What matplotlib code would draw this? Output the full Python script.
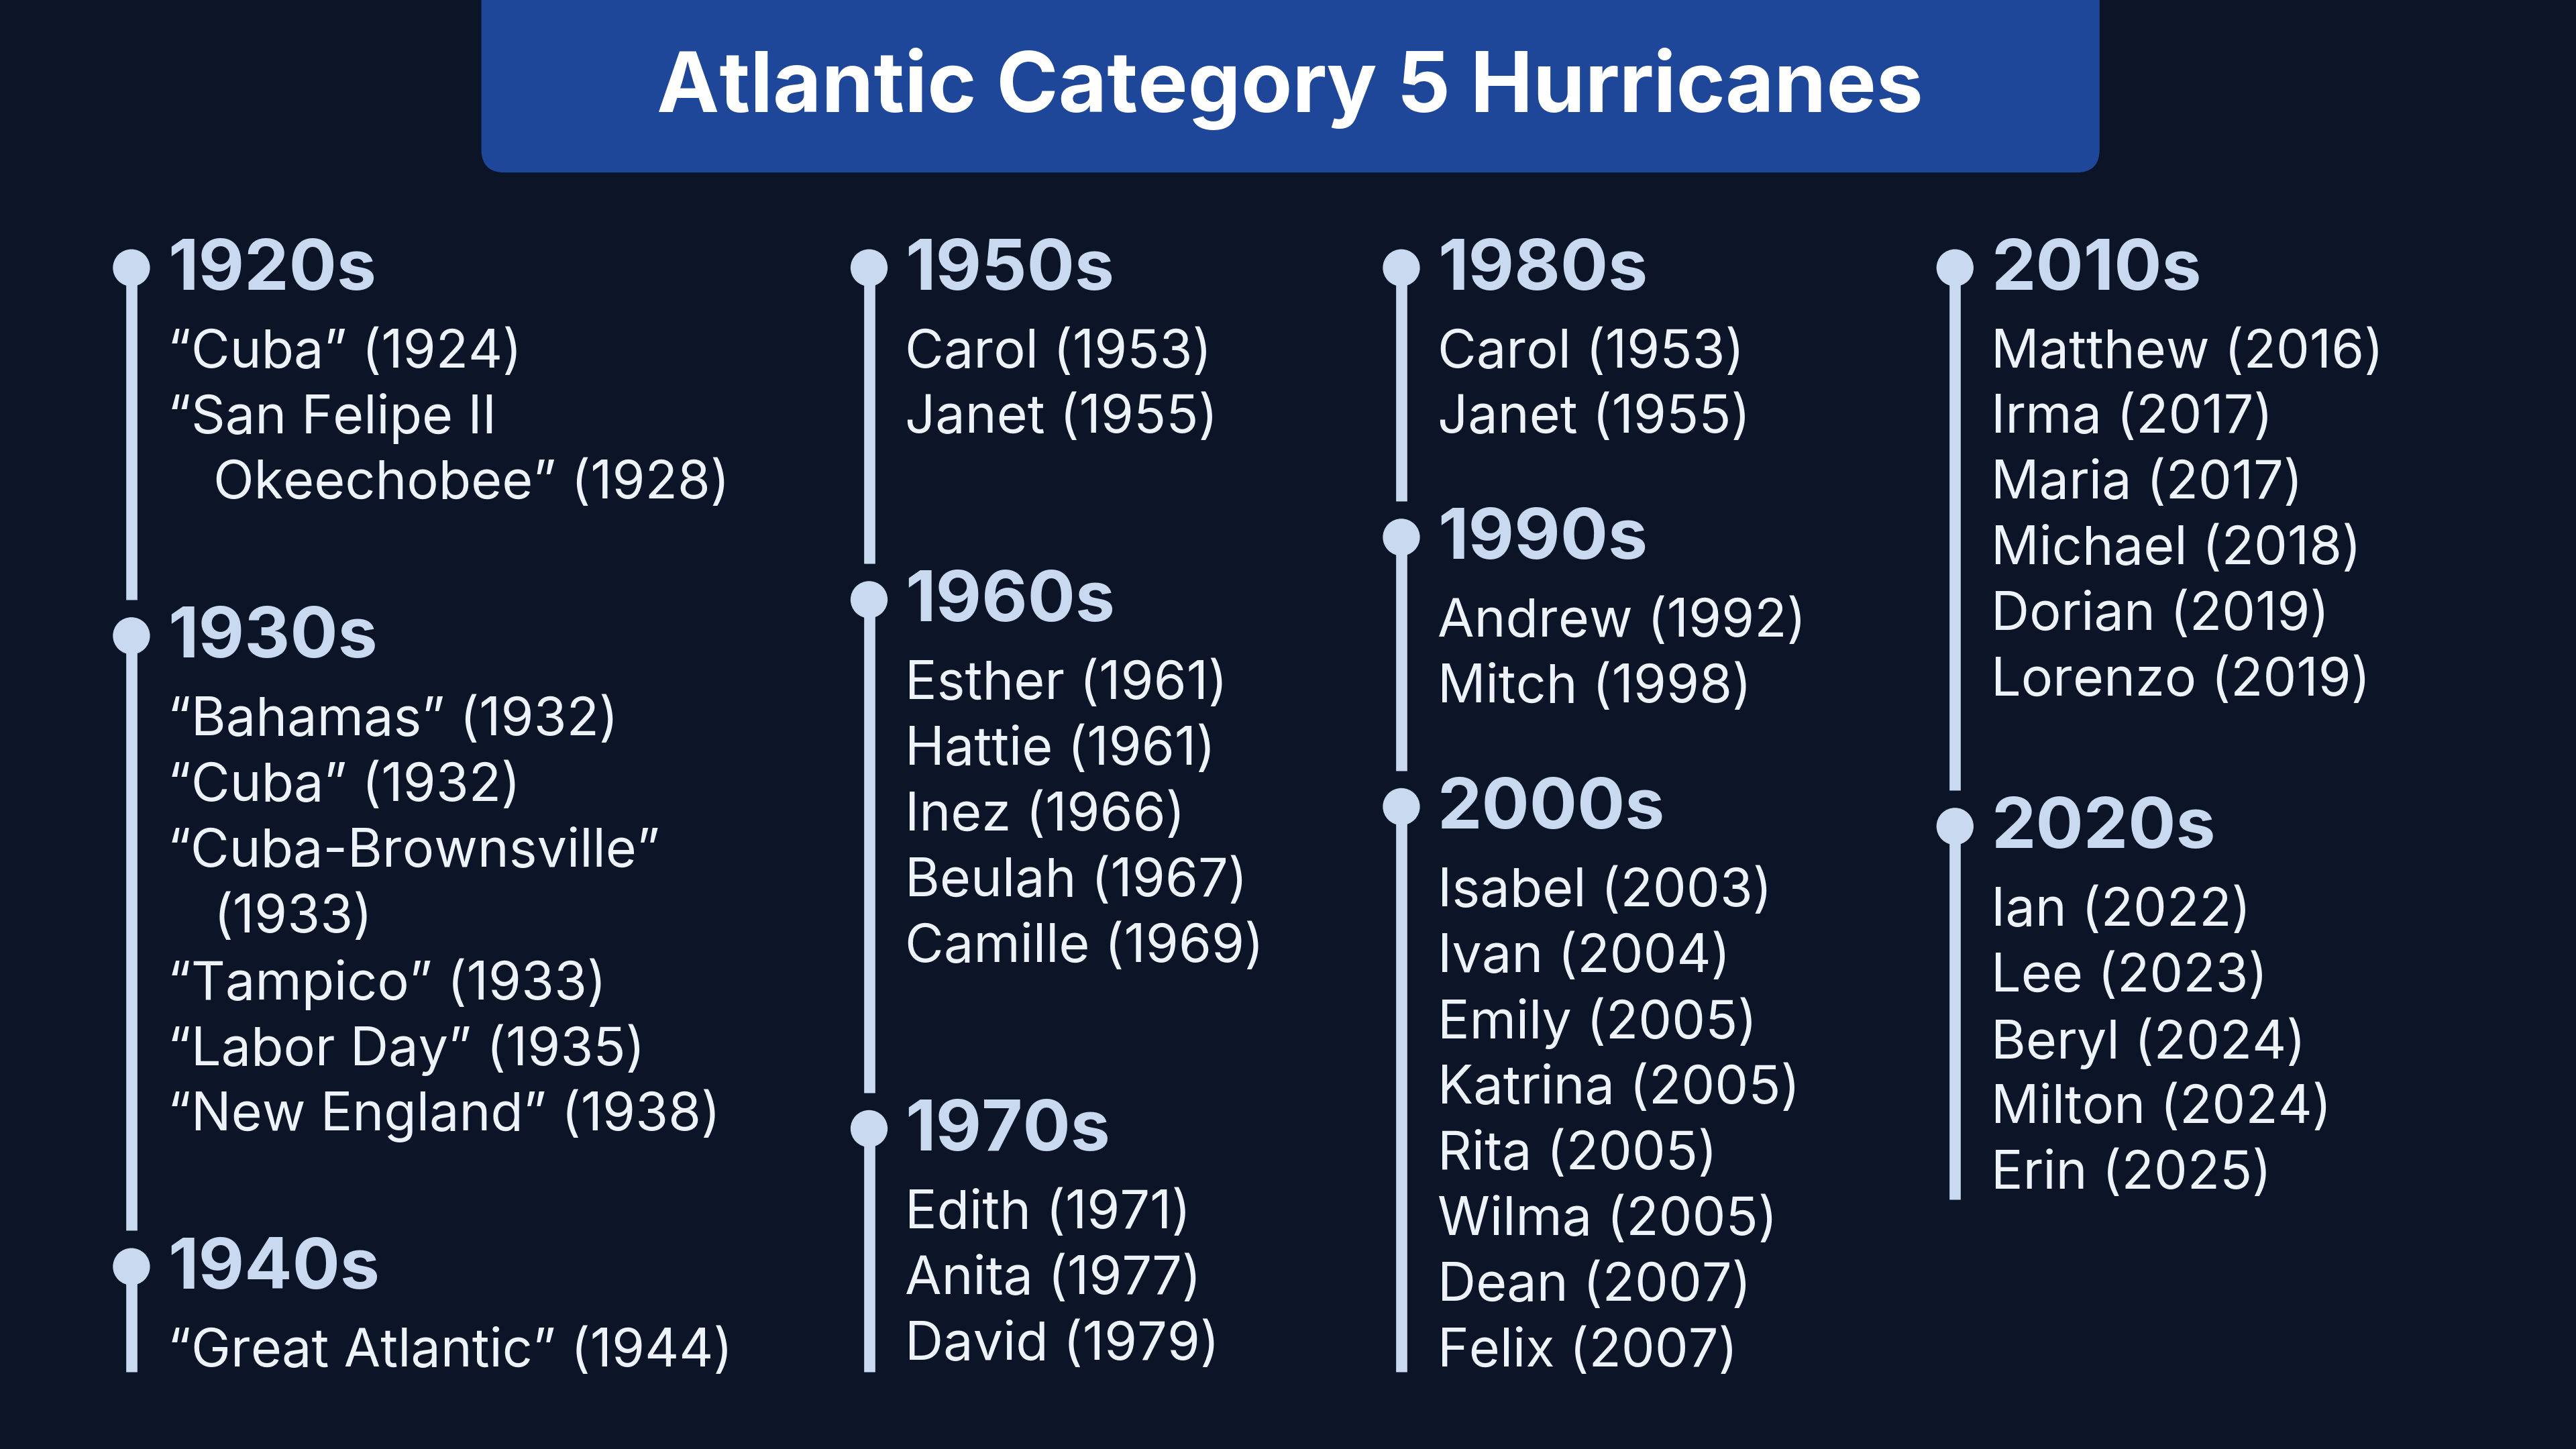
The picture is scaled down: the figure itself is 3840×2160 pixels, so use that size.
import matplotlib.pyplot as plt
from matplotlib.patches import FancyBboxPatch, Circle

plt.rcParams["font.family"] = ["Inter", "DejaVu Sans"]

BG = "#0c1427"
TITLE_BG = "#1f4799"
HEAD = "#c9daf0"
ITEM = "#eef3fa"
LINE = "#c9daf0"

title = "Atlantic Category 5 Hurricanes"

# each column: list of (decade, storms); "|" marks a wrapped continuation line
col1 = [
    ("1920s", ["“Cuba” (1924)", "“San Felipe II|Okeechobee” (1928)"]),
    ("1930s", ["“Bahamas” (1932)", "“Cuba” (1932)", "“Cuba-Brownsville”|(1933)",
               "“Tampico” (1933)", "“Labor Day” (1935)", "“New England” (1938)"]),
    ("1940s", ["“Great Atlantic” (1944)"]),
]
col2 = [
    ("1950s", ["Carol (1953)", "Janet (1955)"]),
    ("1960s", ["Esther (1961)", "Hattie (1961)", "Inez (1966)", "Beulah (1967)", "Camille (1969)"]),
    ("1970s", ["Edith (1971)", "Anita (1977)", "David (1979)"]),
]
col3 = [
    ("1980s", ["Carol (1953)", "Janet (1955)"]),
    ("1990s", ["Andrew (1992)", "Mitch (1998)"]),
    ("2000s", ["Isabel (2003)", "Ivan (2004)", "Emily (2005)", "Katrina (2005)",
               "Rita (2005)", "Wilma (2005)", "Dean (2007)", "Felix (2007)"]),
]
col4 = [
    ("2010s", ["Matthew (2016)", "Irma (2017)", "Maria (2017)", "Michael (2018)",
               "Dorian (2019)", "Lorenzo (2019)"]),
    ("2020s", ["Ian (2022)", "Lee (2023)", "Beryl (2024)", "Milton (2024)", "Erin (2025)"]),
]
columns = [col1, col2, col3, col4]

# layout in a 1568 x 882 reference frame
col_x = [80, 529, 853, 1190]
col_gap = [92, 110, 72, 88]
col_end = [835, 835, 835, 730]
top = 163
step = 40

fig = plt.figure(figsize=(38.4, 21.6), dpi=100, facecolor=BG)
ax = fig.add_axes([0, 0, 1, 1])
ax.set_xlim(0, 1568)
ax.set_ylim(882, 0)
ax.axis("off")
ax.set_facecolor(BG)

ax.add_patch(FancyBboxPatch((293, -40), 985, 145, boxstyle="round,pad=0,rounding_size=14",
                            fc=TITLE_BG, ec="none"))
ax.text(785, 54, title, color="white", fontsize=90, fontweight="bold",
        ha="center", va="center")

for col, x, gap, end in zip(columns, col_x, col_gap, col_end):
    y = top
    starts = []
    for decade, storms in col:
        starts.append(y)
        ax.text(x + 22, y + 2, decade, color=HEAD, fontsize=76, fontweight="bold",
                ha="left", va="center")
        yy = y + 52
        for s in storms:
            for j, part in enumerate(s.split("|")):
                ax.text(x + 22 + (28 if j else 0), yy, part, color=ITEM, fontsize=57,
                        ha="left", va="center")
                yy += step
        y = yy - step + gap
    ends = [s - 22 for s in starts[1:]] + [end]
    for s, e in zip(starts, ends):
        ax.plot([x, x], [s, e], color=LINE, lw=12, solid_capstyle="butt")
        ax.add_patch(Circle((x, s), 11, color=LINE))

fig.savefig("out.png", dpi=100, facecolor=BG)
